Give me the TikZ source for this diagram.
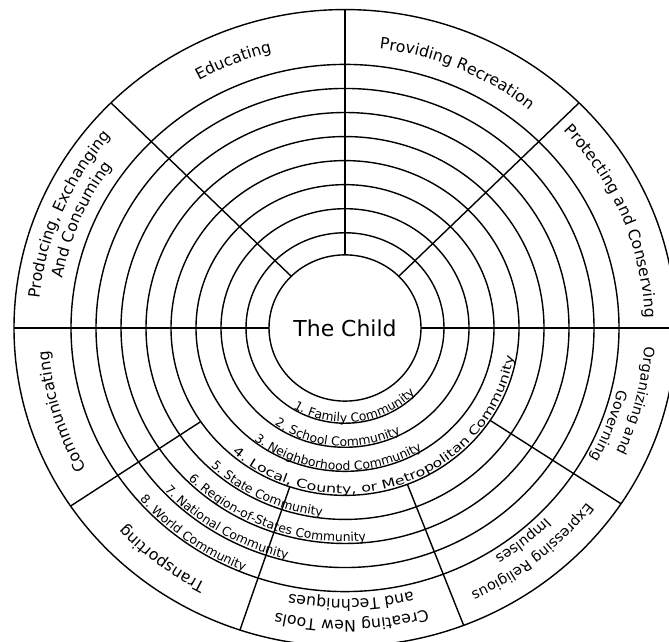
\documentclass[tikz,border=0pt]{standalone}
\usepackage{fontspec}
\setmainfont{DejaVu Sans}
\usetikzlibrary{decorations.text}
\newcommand{\actfont}{\fontsize{11.2}{13}\selectfont}
\newcommand{\actsmall}{\fontsize{10.2}{12}\selectfont}
\newcommand{\comfont}{\fontsize{8.8}{10}\selectfont}
\newcommand{\comwide}{\fontsize{8.6}{10}\selectfont\addfontfeature{FakeStretch=1.32}}
\tikzset{
  ring/.style={line width=1pt},
  spoke/.style={line width=1pt},
  actlabel/.style={decorate, decoration={text along path, text align=center, text={|\actfont|#1}}},
  actlabelsm/.style={decorate, decoration={text along path, text align=center, text={|\actsmall|#1}}},
  comlabel/.style={decorate, decoration={text along path, text align=left, text={|\comfont|#1}}},
  comlabelwide/.style={decorate, decoration={text along path, text align=left, text={|\comwide|#1}}}
}
\begin{document}
\begin{tikzpicture}[x=0.025cm,y=0.025cm]
\useasboundingbox (0,0) rectangle (669,642);
\begin{scope}[shift={(345,314)}, yscale=0.962]
  % rings
  \foreach \r in {76,99,124,149,174,199,224,249,274,331}
    \draw[ring] (0,0) circle[radius=\r];
  % spokes
  \foreach \a in {45,90,135,180}
    \draw[spoke] (\a:76) -- (\a:331);
  \draw[spoke] (0:76) -- (0:345);
  \foreach \a in {214,251.5,291,326.5}
    \draw[spoke] (\a:174) -- (\a:331);
  % centre
  \node[font=\fontsize{15.6}{18}\selectfont] (child) at (0,0) {The Child};
  % activity labels (clockwise, tops outward)
  \path[actlabel={Educating}] (132:296) arc[start angle=132, end angle=92, radius=296];
  \path[actlabel={Providing Recreation}] (90:292) arc[start angle=90, end angle=44, radius=292];
  \path[actlabel={Protecting and Conserving}] (48:300) arc[start angle=48, end angle=-3, radius=300];
  \path[actlabelsm={Organizing and}] (6:300) arc[start angle=6, end angle=-35, radius=300];
  \path[actlabelsm={Governing}] (-1:280) arc[start angle=-1, end angle=-41, radius=280];
  \path[actlabelsm={Expressing Religious}] (-29:302) arc[start angle=-29, end angle=-73, radius=302];
  \path[actlabelsm={Impulses}] (-29:281) arc[start angle=-29, end angle=-73, radius=281];
  \path[actlabel={Creating New Tools}] (-66:304) arc[start angle=-66, end angle=-111.5, radius=304];
  \path[actlabel={and Techniques}] (-66:282) arc[start angle=-66, end angle=-111.5, radius=282];
  \path[actlabel={Transporting}] (-105:300) arc[start angle=-105, end angle=-150, radius=300];
  \path[actlabel={Communicating}] (-140:297) arc[start angle=-140, end angle=-186, radius=297];
  \path[actlabel={Producing, Exchanging}] (181:307) arc[start angle=181, end angle=133, radius=307];
  \path[actlabel={And Consuming}] (181:287) arc[start angle=181, end angle=133, radius=287];
  % community labels (counter-clockwise, tops inward)
  \path[comlabel={1. Family Community}] (238:98) arc[start angle=238, end angle=420, radius=98];
  \path[comlabel={2. School Community}] (235:123) arc[start angle=235, end angle=420, radius=123];
  \path[comlabel={3. Neighborhood Community}] (232:148) arc[start angle=232, end angle=420, radius=148];
  \path[comlabelwide={4. Local, County, or Metropolitan Community}] (229:172) arc[start angle=229, end angle=420, radius=172];
  \path[comlabel={5. State Community}] (227:197) arc[start angle=227, end angle=420, radius=197];
  \path[comlabel={6. Region-of-States Community}] (225:222) arc[start angle=225, end angle=420, radius=222];
  \path[comlabel={7. National Community}] (223:247) arc[start angle=223, end angle=420, radius=247];
  \path[comlabel={8. World Community}] (221:272) arc[start angle=221, end angle=420, radius=272];
\end{scope}
\end{tikzpicture}
\end{document}
